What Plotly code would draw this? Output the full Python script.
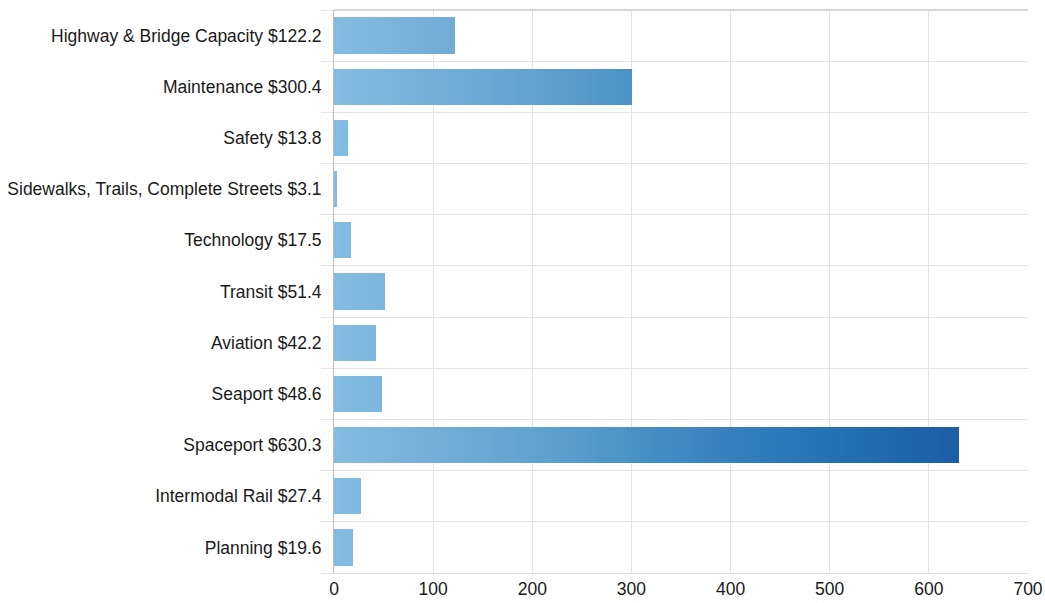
import plotly.graph_objects as go
import numpy as np

categories = ["Highway & Bridge Capacity $122.2", "Maintenance $300.4", "Safety $13.8",
              "Sidewalks, Trails, Complete Streets $3.1", "Technology $17.5", "Transit $51.4",
              "Aviation $42.2", "Seaport $48.6", "Spaceport $630.3", "Intermodal Rail $27.4",
              "Planning $19.6"]
values = [122.2, 300.4, 13.8, 3.1, 17.5, 51.4, 42.2, 48.6, 630.3, 27.4, 19.6]
x_ticks = [0, 100, 200, 300, 400, 500, 600, 700]

# gradient stops along the value axis (value, rgb)
grad_pos = [0, 100, 200, 300, 400, 500, 630]
grad_rgb = [(132, 189, 226), (117, 175, 216), (98, 163, 208), (74, 147, 199),
            (55, 128, 190), (36, 115, 180), (28, 94, 166)]

def color_at(v):
    r = np.interp(v, grad_pos, [c[0] for c in grad_rgb])
    g = np.interp(v, grad_pos, [c[1] for c in grad_rgb])
    b = np.interp(v, grad_pos, [c[2] for c in grad_rgb])
    return f"rgb({int(r)},{int(g)},{int(b)})"

step = 5.0
vals = np.array(values)
nseg = int(np.ceil(vals.max() / step))

fig = go.Figure()
for k in range(nseg):
    start = k * step
    seg = np.clip(vals - start, 0, step)
    fig.add_trace(go.Bar(
        y=categories, x=seg, orientation="h",
        marker=dict(color=color_at(start + step / 2), line=dict(width=0)),
        showlegend=False, hoverinfo="skip",
    ))

fig.update_layout(
    barmode="stack", bargap=0.29,
    width=1045, height=603,
    margin=dict(l=334, r=17, t=10, b=30, autoexpand=False),
    plot_bgcolor="white", paper_bgcolor="white",
    font=dict(family="Liberation Sans, Arial, sans-serif", size=17.5, color="#1a1a1a"),
)
fig.update_xaxes(
    range=[0, 700], tickvals=x_ticks, showgrid=True, gridcolor="#e3e3e3", gridwidth=1,
    zeroline=False, showline=True, linecolor="#dcdcdc", mirror=False, automargin=False,
    tickfont=dict(size=17.5, color="#1a1a1a"), ticks="", fixedrange=True,
)
fig.update_yaxes(
    categoryorder="array", categoryarray=categories[::-1], automargin=False,
    tickson="boundaries", showgrid=True, gridcolor="#e3e3e3", gridwidth=1,
    ticks="outside", ticklen=12, tickcolor="#e3e3e3", tickwidth=1,
    showline=True, linecolor="#bdbdbd", linewidth=1,
    tickfont=dict(size=17.5, color="#1a1a1a"), ticklabelstandoff=8,
)
# top border
fig.add_shape(type="line", xref="paper", yref="paper", x0=0, x1=1, y0=1, y1=1,
              line=dict(color="#c8c8c8", width=1.5))
fig.write_html("out.html", config={"displayModeBar": False},
               post_script="document.body.style.margin='0';document.body.style.overflow='hidden';")
